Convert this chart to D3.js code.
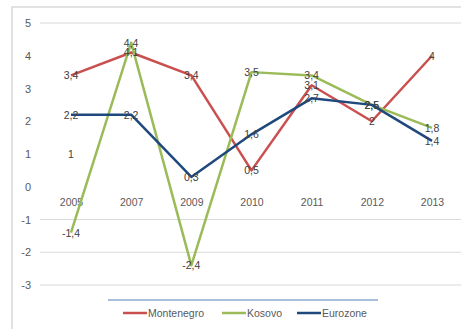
<!DOCTYPE html>
<html>
<head>
<meta charset="utf-8">
<script src="https://cdn.jsdelivr.net/npm/d3@7"></script>
<style>
  html, body { margin: 0; padding: 0; background: #fff; }
  svg { display: block; }
  text { font-family: "Liberation Sans", Arial, sans-serif; }
</style>
</head>
<body>
<svg id="chart" width="461" height="329"></svg>
<script>
// GDP growth (%) by year
const years = ["2005", "2007", "2009", "2010", "2011", "2012", "2013"];
const montenegro = [3.4, 4.1, 3.4, 0.5, 3.1, 2, 4];
const kosovo = [-1.4, 4.4, -2.4, 3.5, 3.4, 2.5, 1.8];
const eurozone = [2.2, 2.2, 0.3, 1.6, 2.7, 2.5, 1.4];
const seriesNames = ["Montenegro", "Kosovo", "Eurozone"];
const seriesColors = ["#C9504F", "#9BBB59", "#1F497D"];
const yTicks = [5, 4, 3, 2, 1, 0, -1, -2, -3];
const gridValues = [5, -1, -2, -3];
// stray label sitting beside the first category
const looseLabels = [{ year: "2005", value: 1, text: "1" }];

const series = [montenegro, kosovo, eurozone].map((vals, i) => ({
  name: seriesNames[i],
  color: seriesColors[i],
  points: vals.map((v, j) => ({ year: years[j], value: v }))
}));

const svg = d3.select("#chart");

const x = d3.scalePoint().domain(years).range([71, 432]);
const y = d3.scaleLinear().domain([-3, 5]).range([285, 23]);

// chart frame (top and left edges)
svg.append("path")
  .attr("d", "M12,329 L12,7 L461,7")
  .attr("fill", "none")
  .attr("stroke", "#d9d9d9")
  .attr("stroke-width", 1.5);

// horizontal gridlines
svg.append("g")
  .selectAll("line")
  .data(gridValues)
  .join("line")
  .attr("x1", 40)
  .attr("x2", 461)
  .attr("y1", d => y(d))
  .attr("y2", d => y(d))
  .attr("stroke", "#d9d9d9")
  .attr("stroke-width", 1);

// value axis labels
const yAxis = d3.axisLeft(y).tickValues(yTicks).tickSize(0).tickPadding(0)
  .tickFormat(d => d3.format("d")(d).replace("−", "-"));
svg.append("g")
  .attr("transform", "translate(31,0)")
  .call(yAxis)
  .call(g => g.select(".domain").remove())
  .call(g => g.selectAll("text")
    .attr("fill", "#595959")
    .attr("font-size", 11)
    .style("font-family", "'Liberation Sans', Arial, sans-serif"));

// category labels, sitting just under the zero line
const xAxis = d3.axisBottom(x).tickSize(0).tickPadding(0);
svg.append("g")
  .attr("transform", `translate(0,${y(0) + 12})`)
  .call(xAxis)
  .call(g => g.select(".domain").remove())
  .call(g => g.selectAll("text")
    .attr("fill", "#595959")
    .attr("font-size", 10.5)
    .style("font-family", "'Liberation Sans', Arial, sans-serif"));

// series lines
const line = d3.line().x(d => x(d.year)).y(d => y(d.value));
svg.append("g")
  .selectAll("path")
  .data(series)
  .join("path")
  .attr("d", d => line(d.points))
  .attr("fill", "none")
  .attr("stroke", d => d.color)
  .attr("stroke-width", 2.5)
  .attr("stroke-linejoin", "round");

// data labels centred on each point
const fmt = v => Number.isInteger(v) ? String(v) : d3.format(".1f")(v).replace(".", ",").replace("−", "-");
const labelGroup = svg.append("g");
series.forEach(s => {
  labelGroup.selectAll(null)
    .data(s.points)
    .join("text")
    .attr("x", d => x(d.year))
    .attr("y", d => y(d.value))
    .attr("text-anchor", "middle")
    .attr("dominant-baseline", "central")
    .attr("font-size", 10.5)
    .attr("fill", "#404040")
    .text(d => fmt(d.value));
});
labelGroup.selectAll(null)
  .data(looseLabels)
  .join("text")
  .attr("x", d => x(d.year))
  .attr("y", d => y(d.value))
  .attr("text-anchor", "middle")
  .attr("dominant-baseline", "central")
  .attr("font-size", 10.5)
  .attr("fill", "#404040")
  .text(d => d.text);

// legend with a rule above it
svg.append("line")
  .attr("x1", 108).attr("x2", 378)
  .attr("y1", 300).attr("y2", 300)
  .attr("stroke", "#4F81BD")
  .attr("stroke-width", 1);

const legendX = [123, 222, 297];
const legend = svg.append("g")
  .selectAll("g")
  .data(series)
  .join("g")
  .attr("transform", (d, i) => `translate(${legendX[i]},313)`);
legend.append("line")
  .attr("x1", 0).attr("x2", 24)
  .attr("stroke", d => d.color)
  .attr("stroke-width", 2.5);
legend.append("text")
  .attr("x", 25)
  .attr("dominant-baseline", "central")
  .attr("font-size", 10.5)
  .attr("fill", "#595959")
  .text(d => d.name);
</script>
</body>
</html>
